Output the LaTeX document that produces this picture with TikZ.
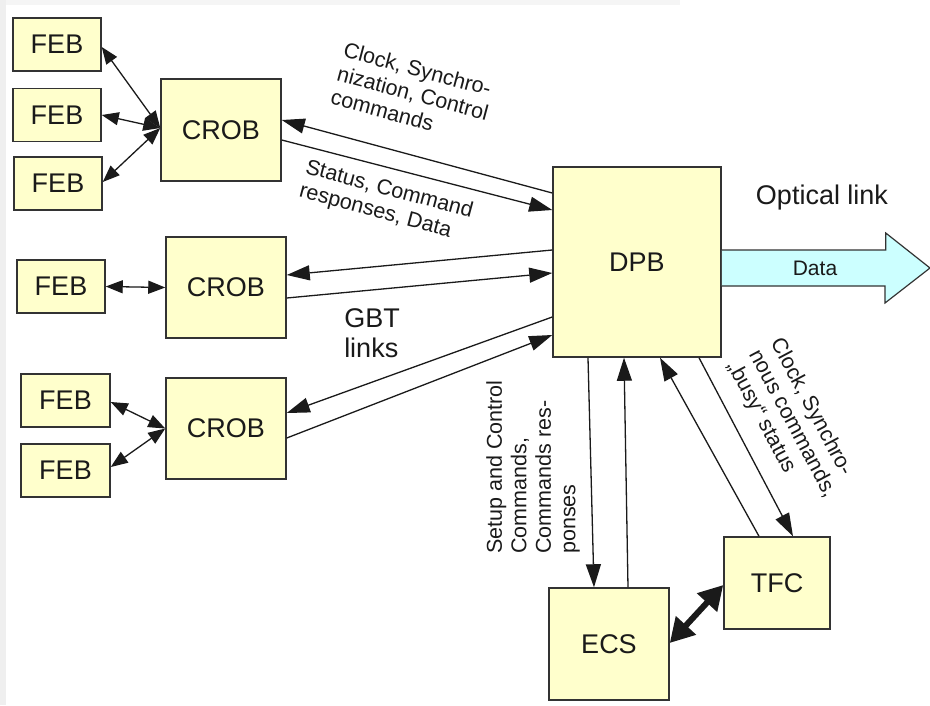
\documentclass[tikz,border=0pt]{standalone}
\usepackage{fontspec}
\setmainfont{Liberation Sans}
\usetikzlibrary{arrows.meta,calc}
\definecolor{boxfill}{HTML}{FFFFCC}
\definecolor{boxline}{HTML}{333333}
\definecolor{ink}{HTML}{1A1A1A}
\definecolor{datafill}{HTML}{CCFFFF}
\definecolor{frame}{HTML}{EFEFEF}
\tikzset{
  block/.style={draw=boxline, fill=boxfill, line width=1.5pt, inner sep=0pt,
    text=ink, font=\fontsize{27}{32}\selectfont},
  febbox/.style={block, minimum width=88pt, minimum height=53pt},
  crobbox/.style={block, minimum width=120pt, minimum height=101pt},
  lbl/.style={text=ink, inner sep=0pt, align=left, font=\fontsize{21.5}{24.5}\selectfont},
  biglbl/.style={text=ink, inner sep=0pt, align=left, font=\fontsize{27}{30}\selectfont},
  link/.style={draw=ink, line width=1.3pt, -{Triangle[length=23pt,width=15pt]}},
  feblink/.style={draw=ink, line width=1.3pt,
    {Triangle[length=17pt,width=13pt]}-{Triangle[length=17pt,width=13pt]}},
  heavylink/.style={draw=ink, line width=6pt,
    {Triangle[length=24pt,width=26pt]}-{Triangle[length=24pt,width=26pt]}}
}
\begin{document}
\begin{tikzpicture}[x=1pt,y=-1pt]
  % canvas and window edge
  \useasboundingbox (0,0) rectangle (930,705);
  \fill[white] (0,0) rectangle (930,705);
  \fill[frame] (0,0) rectangle (6,705);
  \fill[frame!60] (6,0) rectangle (680,5);

  % front-end boards and readout boards
  \node[febbox] (feba) at (57,44.5) {FEB};
  \node[febbox] (febb) at (57,115) {FEB};
  \node[febbox] (febc) at (58,183.5) {FEB};
  \node[crobbox, minimum height=102pt] (croba) at (221,130) {CROB};

  \node[febbox] (febd) at (61,286.5) {FEB};
  \node[crobbox] (crobb) at (226,287.5) {CROB};

  \node[febbox, minimum width=89pt] (febe) at (65.5,400.5) {FEB};
  \node[febbox, minimum width=89pt] (febf) at (65.5,470.5) {FEB};
  \node[crobbox] (crobc) at (226,428.5) {CROB};

  % processing board, control system, timing
  \node[block, minimum width=168pt, minimum height=190pt] (dpb) at (637,262) {DPB};
  \node[block, minimum width=120pt, minimum height=112pt] (ecs) at (609,644) {ECS};
  \node[block, minimum width=106pt, minimum height=92pt] (tfc) at (777,583) {TFC};

  % FEB <-> CROB
  \coordinate (hubA) at ($(croba.west)+(0,-2)$);
  \draw[feblink] ($(feba.east)+(0,2.5)$) -- (hubA);
  \draw[feblink] (febb.east) -- (hubA);
  \draw[feblink] ($(febc.east)+(0,-1.5)$) -- (hubA);
  \draw[feblink] (febd.east) -- (crobb.west);
  \draw[feblink] ($(febe.east)+(0,1.5)$) -- (crobc.west);
  \draw[feblink] ($(febf.east)+(0,-3.5)$) -- (crobc.west);

  % GBT links CROB <-> DPB
  \draw[link] ($(dpb.west)+(0,-69)$) -- ($(croba.east)+(0,-10)$);
  \draw[link] ($(croba.east)+(0,10)$) -- ($(dpb.west)+(0,-52)$);
  \draw[link] ($(dpb.west)+(0,-12)$) -- ($(crobb.east)+(0,-12.5)$);
  \draw[link] ($(crobb.east)+(0,10.5)$) -- ($(dpb.west)+(0,11)$);
  \draw[link] ($(dpb.west)+(0,55)$) -- ($(crobc.east)+(0,-15.5)$);
  \draw[link] ($(crobc.east)+(0,9.5)$) -- ($(dpb.west)+(0,73)$);

  % DPB <-> ECS, DPB <-> TFC
  \draw[link] ($(dpb.south)+(-49,0)$) -- ($(ecs.north)+(-15,0)$);
  \draw[link] ($(ecs.north)+(19,0)$) -- ($(dpb.south)+(-13,0)$);
  \draw[link] ($(tfc.north)+(-18,0)$) -- ($(dpb.south)+(23,0)$);
  \draw[link] ($(dpb.south)+(62,0)$) -- ($(tfc.north)+(16,0)$);

  % ECS <-> TFC
  \draw[heavylink] ($(ecs.east)+(0,-1)$) -- ($(tfc.west)+(0,2)$);

  % optical data output
  \draw[draw=boxline, fill=datafill, line width=1.2pt]
    ($(dpb.east)+(0,-12)$) -- ++(164,0) -- ++(0,-17) -- (930,268) -- (885,303)
    -- ++(0,-17) -- ($(dpb.east)+(0,24)$);
  \node[lbl, font=\fontsize{21}{24}\selectfont] (datatxt) at (815,268) {Data};
  \node[biglbl] (optical) at (822,198) {Optical link};

  % link annotations
  \node[lbl, rotate=-15] (clocklbl) at (413,93) {Clock, Synchro-\\nization, Control\\commands};
  \node[lbl, rotate=-15] (statuslbl) at (386,202) {Status, Command\\responses, Data};
  \node[biglbl] (gbtlbl) at (372,333) {GBT\\links};
  \node[lbl, rotate=90] (ecslbl) at (533,467) {Setup and Control\\Commands,\\Commands res-\\ponses};
  \node[lbl, rotate=-62] (tfclbl) at (792,424) {Clock, Synchro-\\nous commands,\\„busy“ status};
\end{tikzpicture}
\end{document}
